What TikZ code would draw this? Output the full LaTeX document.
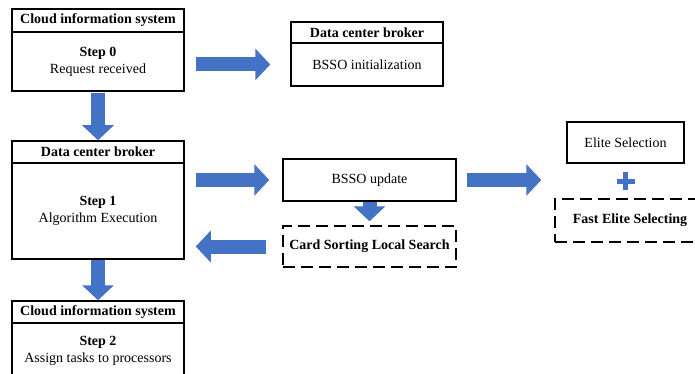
\documentclass[tikz,border=0pt]{standalone}
\usepackage{fontspec}
\setmainfont{Liberation Serif}
\usetikzlibrary{arrows.meta,calc}
\definecolor{arrblue}{RGB}{68,114,196}

\begin{document}
\begin{tikzpicture}[x=1pt,y=-1pt,
  box/.style={draw,line width=1.5pt,inner sep=0pt,align=center,font=\fontsize{14}{17}\selectfont},
  dbox/.style={box,dash pattern=on 12pt off 6pt},
  blockarr/.style={draw=arrblue,line width=14pt,-{Triangle[width=31pt,length=15pt]}},
  plusbar/.style={draw=arrblue,line width=5pt}]
  \clip (0,0) rectangle (695,374);

  % left column
  \node[box,minimum width=172pt,minimum height=23pt] (h0) at (98,20.5) {\textbf{Cloud information system}};
  \node[box,minimum width=172pt,minimum height=59pt] (s0) at (98,61.5) {\textbf{Step 0}\\Request received};

  \node[box,minimum width=172pt,minimum height=22pt] (h1) at (98,152) {\textbf{Data center broker}};
  \node[box,minimum width=172pt,minimum height=96pt] (s1) at (98,211) {\textbf{Step 1}\\Algorithm Execution};

  \node[box,minimum width=172pt,minimum height=22pt] (h2) at (98,312) {\textbf{Cloud information system}};
  \node[box,minimum width=172pt,minimum height=56pt] (s2) at (98,351) {\textbf{Step 2}\\Assign tasks to processors};

  % middle column
  \node[box,minimum width=152pt,minimum height=21pt] (dcbh) at (367,32.5) {\textbf{Data center broker}};
  \node[box,minimum width=152pt,minimum height=43pt] (dcbb) at (367,64.5) {BSSO initialization};

  \node[box,minimum width=173pt,minimum height=42pt] (upd) at (369.5,180) {BSSO update};
  \node[dbox,minimum width=173pt,minimum height=41pt] (cls) at (369.5,246.5) {\textbf{Card Sorting Local Search}};

  % right column
  \node[box,minimum width=117pt,minimum height=41pt] (eli) at (625.5,142.5) {Elite Selection};
  \node[dbox,minimum width=150pt,minimum height=43pt] (fes) at (630,220.5) {\textbf{Fast Elite Selecting}};

  % arrows
  \draw[blockarr] ($(s0.east |- dcbb.west)+(11,0)$) -- ($(dcbb.west)+(-20,0)$);
  \draw[blockarr] ($(s0.south)+(0,1)$) -- (h1.north);
  \draw[blockarr] (s1.south) -- (h2.north);
  \draw[blockarr] ($(s1.east |- upd.west)+(11,0)$) -- ($(upd.west)+(-13,0)$);
  \draw[blockarr] ($(cls.west)+(-16,0)$) -- ($(s1.east |- cls.west)+(11,0)$);
  \draw[blockarr] (upd.south) -- ($(cls.north)+(0,-4)$);
  \draw[blockarr] ($(upd.east)+(10,0)$) -- ($(fes.west |- upd.east)+(-13,0)$);

  \coordinate (pl) at ($(eli.south)!0.5!(eli.south |- fes.north)$);
  \draw[plusbar] ($(pl)+(-9,0)$) -- ($(pl)+(9,0)$) ($(pl)+(0,-9)$) -- ($(pl)+(0,9)$);

\end{tikzpicture}
\end{document}
